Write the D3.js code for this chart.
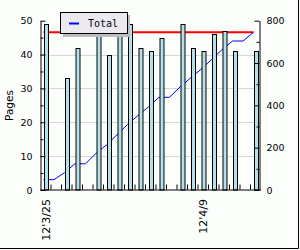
<!DOCTYPE html>
<html>
  <head>
    <script src="https://d3js.org/d3.v7.min.js"></script>
    <style>
      body { margin: 0; }
    </style>
  </head>
  <body>
    <script>

// pages read per day, day = index from 12'3/25
const pageDays = [0, 2, 3, 5, 6, 7, 8, 9, 10, 11, 13, 14, 15, 16, 17, 18, 20];
const pages = [49, 33, 42, 49, 40, 48, 49, 42, 41, 45, 49, 42, 41, 46, 47, 41, 41];
const dayCount = 21;
const labelDays = [0, 15];
const labelTexts = ["12'3/25", "12'4/9"];
const targetTotal = 745;
const leftTicks = [0, 10, 20, 30, 40, 50];
const rightTicks = [0, 200, 400, 600, 800];

const width = 300;
const height = 250;

// running total per day
const perDay = d3.range(dayCount).map(d => {
  const k = pageDays.indexOf(d);
  return k < 0 ? 0 : pages[k];
});
const total = Array.from(d3.cumsum(perDay));

const x = d3.scaleLinear().domain([0, dayCount]).range([40, 260.5]);
const yL = d3.scaleLinear().domain([0, 50]).range([190, 20.7]);
const yR = d3.scaleLinear().domain([0, 800]).range([190, 20.7]);

const svg = d3.select("body").append("svg")
    .attr("width", width)
    .attr("height", height)
    .style("font-family", "DejaVu Sans")
    .style("font-size", "9.5px");

svg.append("rect")
    .attr("width", width)
    .attr("height", height)
    .attr("fill", "#fcfefc");

svg.append("path")
    .attr("d", "M298.5,0V248.5H0")
    .attr("fill", "none")
    .attr("stroke", "#000");

// grid
svg.append("g").selectAll("line")
    .data([10, 20, 30, 40])
    .join("line")
    .attr("x1", 40).attr("x2", 260)
    .attr("y1", d => Math.round(yL(d)) + 0.5)
    .attr("y2", d => Math.round(yL(d)) + 0.5)
    .attr("stroke", "#d6d6d6");

// target line
svg.append("line")
    .attr("x1", x(0) + 3.5)
    .attr("x2", x(dayCount - 1) + 3.5)
    .attr("y1", yR(targetTotal))
    .attr("y2", yR(targetTotal))
    .attr("stroke", "#ff0000")
    .attr("stroke-width", 2);

// running total
svg.append("path")
    .datum(total)
    .attr("fill", "none")
    .attr("stroke", "#0000ff")
    .attr("stroke-width", 1)
    .attr("d", d3.line()
      .x((d, i) => x(i) + 3.5)
      .y(d => yR(d)));

// bars
svg.append("g").selectAll("rect")
    .data(pages)
    .join("rect")
    .attr("x", (d, i) => x(pageDays[i]) + 4.5)
    .attr("y", d => Math.round(yL(d)) + 0.5)
    .attr("width", 4)
    .attr("height", d => 190 - Math.round(yL(d)) - 0.5)
    .attr("fill", "#b4e0ea")
    .attr("stroke", "#000");

// left axis
svg.append("g")
    .attr("transform", "translate(40.5,0)")
    .call(d3.axisLeft(yL).tickValues(d3.range(5, 50, 10)).tickSize(-3).tickFormat(""))
    .call(g => g.select(".domain").remove());
svg.append("g")
    .attr("transform", "translate(40.5,0)")
    .call(d3.axisLeft(yL).tickValues(leftTicks).tickSizeInner(-5).tickSizeOuter(0).tickPadding(8))
    .call(g => g.selectAll("text").style("font-family", "DejaVu Sans").style("font-size", "9.5px"));

// right axis
svg.append("g")
    .attr("transform", "translate(259.5,0)")
    .call(d3.axisRight(yR).tickValues(d3.range(100, 800, 200)).tickSize(-3).tickFormat(""))
    .call(g => g.select(".domain").remove());
svg.append("g")
    .attr("transform", "translate(259.5,0)")
    .call(d3.axisRight(yR).tickValues(rightTicks).tickSizeInner(-5).tickSizeOuter(0).tickPadding(7))
    .call(g => g.selectAll("text").style("font-family", "DejaVu Sans").style("font-size", "9.5px"));

// bottom axis
svg.append("g")
    .attr("transform", "translate(0,189.5)")
    .call(d3.axisBottom(x).tickValues(d3.range(1, dayCount)).tickSizeInner(-5).tickSizeOuter(0).tickFormat(""));

svg.append("g").selectAll("text")
    .data(labelDays)
    .join("text")
    .attr("transform", d => `translate(${x(d) + 9.5},199) rotate(-90)`)
    .attr("text-anchor", "end")
    .style("font-size", "11px")
    .text((d, i) => labelTexts[i]);

svg.append("text")
    .attr("transform", "translate(13,105.5) rotate(-90)")
    .attr("text-anchor", "middle")
    .style("font-size", "10.5px")
    .text("Pages");

// legend
const lg = svg.append("g");
lg.append("rect")
    .attr("x", 63).attr("y", 15)
    .attr("width", 67).attr("height", 22)
    .attr("fill", "#bcbcbc");
lg.append("rect")
    .attr("x", 60.5).attr("y", 12.5)
    .attr("width", 67).attr("height", 21)
    .attr("fill", "#ebe9ef")
    .attr("stroke", "#000");
lg.append("line")
    .attr("x1", 69).attr("x2", 79)
    .attr("y1", 23.5).attr("y2", 23.5)
    .attr("stroke", "#0000ff")
    .attr("stroke-width", 2);
lg.append("text")
    .attr("x", 88).attr("y", 27)
    .style("font-family", "DejaVu Sans Mono")
    .style("font-size", "10px")
    .text("Total");

    </script>
  </body>
</html>
